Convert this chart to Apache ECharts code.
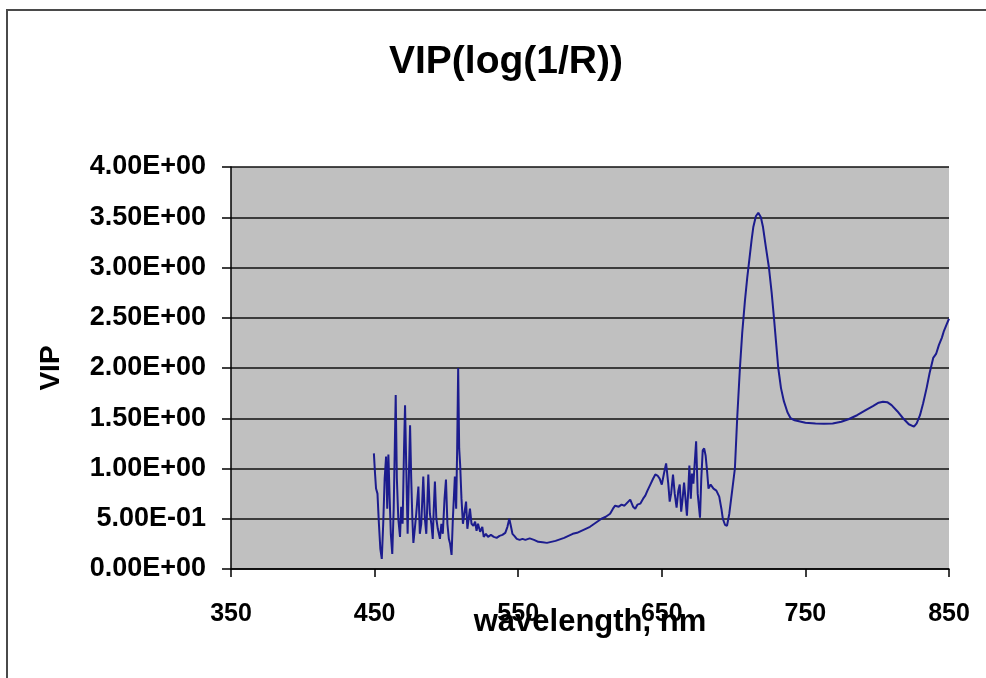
<!DOCTYPE html>
<html>
<head>
<meta charset="utf-8">
<script src="https://cdn.jsdelivr.net/npm/echarts@6/dist/echarts.min.js"></script>
<style>
  html, body { margin: 0; padding: 0; background: #fff; }
  #chartVip { width: 986px; height: 678px; }
</style>
</head>
<body>
<div id="chartVip"></div>
<script>
  // wavelength (nm) and VIP
  var wavelengths = [
    449.5, 450.3, 451, 452, 453, 454, 455, 456, 457, 458, 458.8, 459.6, 460.5, 461.3, 462.3, 463.3, 464.7,
    465.5, 466.5, 467.7, 468.5, 469.5, 470.5, 471.2, 472, 473, 474, 474.7, 475.5, 476.3, 477, 478,
    479, 480.5, 481.5, 482.5, 483.9, 485, 486, 487.4, 488.5, 489.5, 490.5, 491.2, 492, 493, 494,
    495.5, 496.5, 497.5, 498.7, 499.7, 500.7, 501.7, 502.6, 503.6, 504.5, 505.9, 506.8, 507.5, 508.2,
    508.9, 509.6, 510.5, 511.5, 512.5, 513.7, 514.6, 515.5, 516.4, 517.5, 518.8, 520, 521, 522, 523.5,
    525, 526, 527.5, 529, 531, 533, 535, 537, 539, 541, 542.5, 543.8, 545, 546, 547.3, 549, 551, 553,
    555, 558, 561, 564, 567, 570, 573, 576, 579, 582, 585, 588, 591, 594, 597, 600, 603, 605, 608,
    611, 614, 616, 617.5, 620, 622, 624, 626, 628, 630, 631.5, 633, 635, 637, 638.5, 640, 642, 644,
    645.5, 647, 648.5, 650, 651.5, 653, 654.5, 655.5, 656.5, 657.8, 659, 660.3, 661.5, 662.5, 663.5,
    664.5, 665.5, 666.5, 667.5, 668.5, 669.2, 670.2, 671, 672, 673.9, 675, 676.6, 677.5, 678.5, 679.5,
    680.5, 681.5, 682.5, 684, 686, 688, 690, 691.5, 692.5, 694, 695.4, 697, 699, 700.9, 702.5, 704.4,
    706, 707.9, 709.5, 710.9, 712.5, 713.7, 715.5, 717.2, 719, 720.5, 722.5, 724.6, 726.5, 728.1,
    729.6, 731.1, 733, 735, 737.5, 739.7, 742.5, 745.5, 750, 757, 763, 769, 775, 780, 786, 792, 797,
    801, 804, 807, 810, 814, 818, 822, 825.6, 827.5, 829.8, 832, 834.4, 836.5, 839, 841, 843, 845,
    846.5, 848.5, 850
  ];
  var vip = [
    1.15, 0.95, 0.80, 0.75, 0.45, 0.20, 0.10, 0.45, 0.90, 1.12, 0.60, 1.14, 0.70, 0.35, 0.15, 0.60, 1.73,
    0.90, 0.50, 0.32, 0.62, 0.45, 1.20, 1.63, 1.05, 0.35, 1.00, 1.43, 0.90, 0.50, 0.26, 0.40,
    0.55, 0.82, 0.35, 0.45, 0.92, 0.50, 0.35, 0.94, 0.55, 0.45, 0.30, 0.60, 0.87, 0.50, 0.40,
    0.30, 0.45, 0.35, 0.70, 0.89, 0.45, 0.30, 0.25, 0.14, 0.50, 0.92, 0.60, 1.20, 2.00,
    1.20, 1.03, 0.70, 0.45, 0.55, 0.67, 0.40, 0.50, 0.60, 0.45, 0.43, 0.47, 0.38, 0.45, 0.37,
    0.42, 0.32, 0.35, 0.32, 0.34, 0.32, 0.31, 0.33, 0.34, 0.36, 0.42, 0.50, 0.42, 0.35, 0.33, 0.30, 0.29, 0.30,
    0.29, 0.305, 0.29, 0.27, 0.265, 0.26, 0.27, 0.28, 0.295, 0.31, 0.33, 0.35, 0.36, 0.38, 0.40, 0.42, 0.45, 0.47, 0.50,
    0.52, 0.55, 0.60, 0.63, 0.62, 0.64, 0.63, 0.66, 0.69, 0.62, 0.60, 0.64, 0.65, 0.70, 0.73, 0.78, 0.84, 0.90,
    0.94, 0.93, 0.90, 0.84, 0.95, 1.05, 0.85, 0.67, 0.75, 0.94, 0.75, 0.61, 0.78, 0.84, 0.57,
    0.70, 0.86, 0.70, 0.53, 0.80, 1.03, 0.70, 0.95, 0.85, 1.27, 0.75, 0.51, 0.90, 1.18, 1.20,
    1.13, 0.98, 0.80, 0.84, 0.80, 0.78, 0.72, 0.60, 0.50, 0.44, 0.43, 0.55, 0.78, 1.00, 1.50, 2.00,
    2.35, 2.67, 2.90, 3.07, 3.27, 3.40, 3.51, 3.545, 3.50, 3.40, 3.20, 3.00, 2.75, 2.50,
    2.25, 2.00, 1.80, 1.67, 1.56, 1.50, 1.48, 1.47, 1.455, 1.447, 1.445, 1.447, 1.465, 1.49, 1.53, 1.58, 1.62,
    1.655, 1.665, 1.66, 1.63, 1.57, 1.50, 1.44, 1.416, 1.45, 1.53, 1.65, 1.80, 1.95, 2.10, 2.14, 2.23, 2.30,
    2.37, 2.44, 2.49
  ];
  var titleText = 'VIP(log(1/R))';
  var xName = 'wavelength, nm';
  var yName = 'VIP';

  var points = wavelengths.map(function(w, i) { return [w, vip[i]]; });

  function sci(v) {
    var parts = v.toExponential(2).split('e');
    var exp = parseInt(parts[1], 10);
    var sign = exp < 0 ? '-' : '+';
    var digits = Math.abs(exp) < 10 ? '0' + Math.abs(exp) : '' + Math.abs(exp);
    return parts[0] + 'E' + sign + digits;
  }

  var font = '"Liberation Sans", Arial, sans-serif';
  var option = {
    backgroundColor: '#ffffff',
    animation: false,
    title: {
      text: titleText,
      left: 384,
      top: 38,
      textStyle: { fontFamily: font, fontSize: 39, fontWeight: 'bold', color: '#000' }
    },
    graphic: [{
      type: 'rect',
      shape: { x: 7, y: 10, width: 1000, height: 700 },
      style: { fill: 'none', stroke: '#4a4a4a', lineWidth: 2 },
      silent: true
    }],
    grid: {
      left: 231, right: 37, top: 167, bottom: 109,
      show: true, backgroundColor: '#c0c0c0', borderWidth: 0
    },
    xAxis: {
      type: 'value',
      min: 350, max: 850, interval: 100,
      name: xName,
      nameLocation: 'middle',
      nameGap: 38,
      nameMoveOverlap: false,
      nameTextStyle: { fontFamily: font, fontSize: 31, fontWeight: 'bold', color: '#000' },
      axisLine: { lineStyle: { color: '#000', width: 1.5 } },
      axisTick: { show: true, length: 8, lineStyle: { color: '#000', width: 1.5 } },
      axisLabel: { margin: 33, fontFamily: font, fontSize: 25, fontWeight: 'bold', color: '#000' },
      splitLine: { show: false }
    },
    yAxis: {
      type: 'value',
      min: 0, max: 4, interval: 0.5,
      name: yName,
      nameLocation: 'middle',
      nameGap: 166,
      nameMoveOverlap: false,
      nameTextStyle: { fontFamily: font, fontSize: 28, fontWeight: 'bold', color: '#000' },
      axisLine: { show: true, lineStyle: { color: '#000', width: 1.5 } },
      axisTick: { show: true, length: 9, lineStyle: { color: '#000', width: 1.5 } },
      axisLabel: {
        margin: 25, fontFamily: font, fontSize: 27, fontWeight: 'bold', color: '#000',
        formatter: sci
      },
      splitLine: { show: true, lineStyle: { color: '#111', width: 1.5 } }
    },
    series: [{
      name: yName,
      type: 'line',
      data: points,
      showSymbol: false,
      lineStyle: { color: '#1c1c8e', width: 2 },
      itemStyle: { color: '#1c1c8e' }
    }]
  };

  echarts.init(document.getElementById('chartVip')).setOption(option);
</script>
</body>
</html>
